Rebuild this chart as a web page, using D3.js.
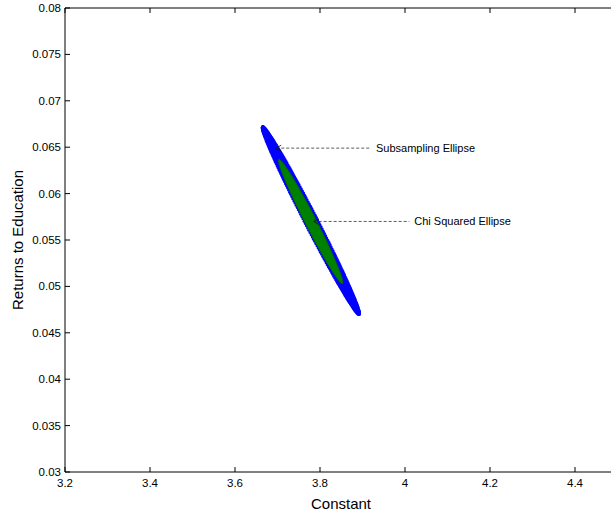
<!DOCTYPE html>
<html><head><meta charset="utf-8">
<script src="https://cdn.jsdelivr.net/npm/d3@7/dist/d3.min.js"></script>
<style>body{margin:0;background:#fff}svg{display:block}text{font-family:"Liberation Sans",Arial,sans-serif}</style>
</head><body>
<script>
// ----- data -----
const xTicks = [3.2, 3.4, 3.6, 3.8, 4, 4.2, 4.4];
const yTicks = [0.03, 0.035, 0.04, 0.045, 0.05, 0.055, 0.06, 0.065, 0.07, 0.075, 0.08];
const xDomain = [3.2, 4.5];
const yDomain = [0.03, 0.08];
// ellipses: major-axis end points (data units) and minor-semi-axis / major-axis-length ratio
const subsamplingEnds = [[3.665, 0.0672], [3.892, 0.0470]];
const subsamplingRatio = [0.030];
const chiEnds = [[3.703, 0.0637], [3.853, 0.0503]];
const chiRatio = [0.040];
const annotations = [
  {label: "Subsampling Ellipse", from: [3.697, 0.0649], to: [3.92, 0.0649]},
  {label: "Chi Squared Ellipse", from: [3.785, 0.0570], to: [4.01, 0.0570]}
];

const W = 611, H = 516;
const m = {left: 65, top: 8, right: 617.5, bottom: 472};
const x = d3.scaleLinear().domain(xDomain).range([m.left, m.right]);
const y = d3.scaleLinear().domain(yDomain).range([m.bottom, m.top]);

const svg = d3.select("body").append("svg").attr("width", W).attr("height", H);

function ellipsePts(ends, ratio, n) {
  const p1 = [x(ends[0][0]), y(ends[0][1])], p2 = [x(ends[1][0]), y(ends[1][1])];
  const cx = (p1[0] + p2[0]) / 2, cy = (p1[1] + p2[1]) / 2;
  const dx = (p2[0] - p1[0]) / 2, dy = (p2[1] - p1[1]) / 2;
  const a = Math.hypot(dx, dy), b = a * 2 * ratio;
  const ux = dx / a, uy = dy / a;
  const pts = [];
  for (let i = 0; i < n; i++) {
    const t = 2 * Math.PI * i / n;
    const u = a * Math.cos(t), v = b * Math.sin(t);
    pts.push([cx + u * ux - v * uy, cy + u * uy + v * ux]);
  }
  return pts;
}

const g = svg.append("g");
const bPts = ellipsePts(subsamplingEnds, subsamplingRatio[0], 260);
g.append("path").attr("d", d3.line()(bPts) + "Z").attr("fill", "#0000ff").attr("stroke", "#0000ff").attr("stroke-width", 1);
g.selectAll("circle.b").data(bPts).join("circle").attr("class", "b")
  .attr("cx", d => d[0]).attr("cy", d => d[1]).attr("r", 1.5).attr("fill", "#0000ff");
const gPts = ellipsePts(chiEnds, chiRatio[0], 200);
g.append("path").attr("d", d3.line()(gPts) + "Z").attr("fill", "#008000").attr("stroke", "#006400").attr("stroke-width", 0.8);

annotations.forEach(a => {
  const x1 = x(a.from[0]), y1 = y(a.from[1]), x2 = x(a.to[0]);
  svg.append("line").attr("x1", x1).attr("y1", y1).attr("x2", x2).attr("y2", y1)
    .attr("stroke", "#333").attr("stroke-width", 0.8).attr("stroke-dasharray", "3,2");
  svg.append("path").attr("d", `M${x1+5},${y1-3}L${x1},${y1}L${x1+5},${y1+3}`)
    .attr("fill", "none").attr("stroke", "#111").attr("stroke-width", 0.8);
  svg.append("text").attr("x", x2 + 5).attr("y", y1 + 4).attr("font-size", 11).text(a.label);
});

const ax = svg.append("g");
ax.append("line").attr("x1", m.left).attr("x2", m.right).attr("y1", m.bottom).attr("y2", m.bottom).attr("stroke", "#000");
ax.append("line").attr("x1", m.left).attr("x2", m.right).attr("y1", m.top).attr("y2", m.top).attr("stroke", "#000");
ax.append("line").attr("x1", m.left).attr("x2", m.left).attr("y1", m.top).attr("y2", m.bottom).attr("stroke", "#000");
xTicks.forEach(t => {
  ax.append("line").attr("x1", x(t)).attr("x2", x(t)).attr("y1", m.bottom).attr("y2", m.bottom - 5).attr("stroke", "#000");
  ax.append("line").attr("x1", x(t)).attr("x2", x(t)).attr("y1", m.top).attr("y2", m.top + 5).attr("stroke", "#000");
  ax.append("text").attr("x", x(t)).attr("y", m.bottom + 15).attr("text-anchor", "middle").attr("font-size", 11.5).text(t);
});
yTicks.forEach(t => {
  ax.append("line").attr("x1", m.left).attr("x2", m.left + 5).attr("y1", y(t)).attr("y2", y(t)).attr("stroke", "#000");
  ax.append("text").attr("x", m.left - 4).attr("y", y(t) + 4).attr("text-anchor", "end").attr("font-size", 11.5).text(t);
});
svg.append("text").attr("x", 341).attr("y", 509).attr("text-anchor", "middle").attr("font-size", 15).text("Constant");
svg.append("text").attr("transform", `translate(23,${(m.top + m.bottom) / 2}) rotate(-90)`).attr("text-anchor", "middle").attr("font-size", 15).text("Returns to Education");
</script>
</body></html>
